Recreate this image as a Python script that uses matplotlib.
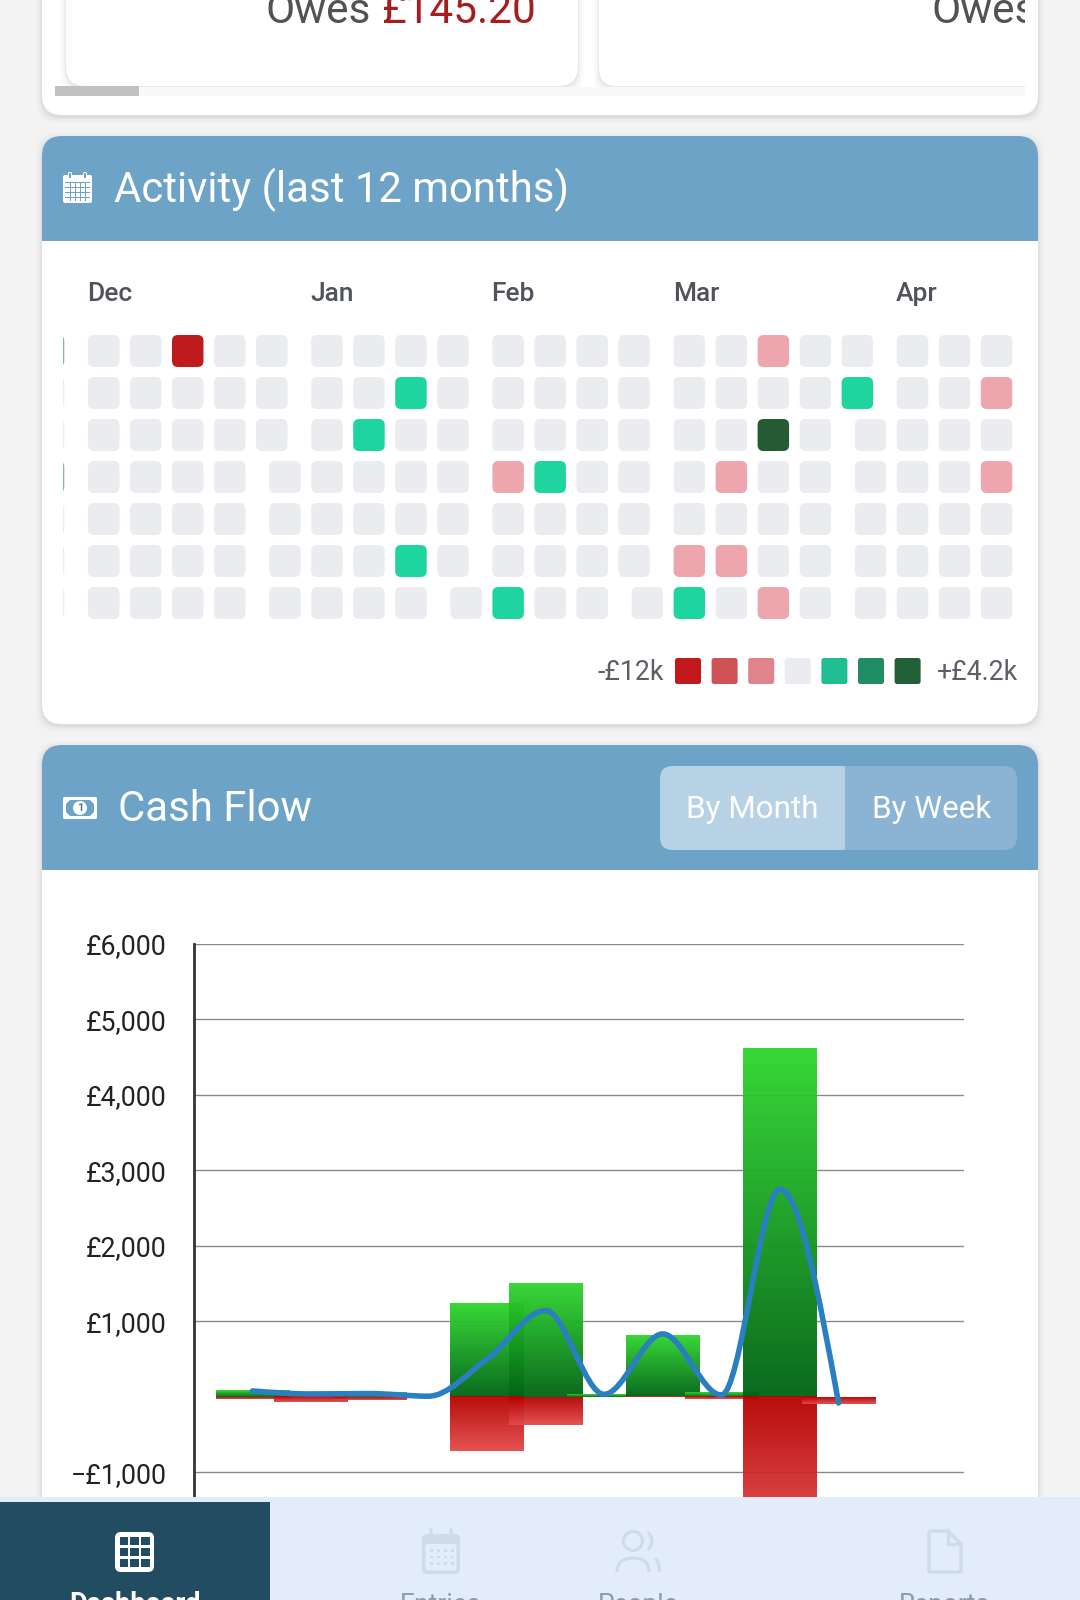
import numpy as np
import matplotlib
matplotlib.use('Agg')
import matplotlib.pyplot as plt
from matplotlib.patches import FancyBboxPatch, Rectangle, Circle, PathPatch, Polygon
from matplotlib.path import Path

plt.rcParams['font.family'] = ['Roboto', 'DejaVu Sans']

# heatmap data: 0 empty, -1/-3 spending, 1/3 income
HEAT_LEVELS = [
    [0, 0, -3, 0, 0, 0, 0, 0, 0, 0, 0, 0, 0, 0, 0, -1, 0, 0, 0, 0, 0],
    [0, 0, 0, 0, 0, 0, 0, 1, 0, 0, 0, 0, 0, 0, 0, 0, 0, 1, 0, 0, -1],
    [0, 0, 0, 0, 0, 0, 1, 0, 0, 0, 0, 0, 0, 0, 0, 3, 0, 0, 0, 0, 0],
    [0, 0, 0, 0, 0, 0, 0, 0, 0, -1, 1, 0, 0, 0, -1, 0, 0, 0, 0, 0, -1],
    [0, 0, 0, 0, 0, 0, 0, 0, 0, 0, 0, 0, 0, 0, 0, 0, 0, 0, 0, 0, 0],
    [0, 0, 0, 0, 0, 0, 0, 1, 0, 0, 0, 0, 0, -1, -1, 0, 0, 0, 0, 0, 0],
    [0, 0, 0, 0, 0, 0, 0, 0, 0, 1, 0, 0, 0, 1, 0, -1, 0, 0, 0, 0, 0],
]
PREV_COLUMN = [1, 0, 0, 1, 0, 0, 0]
MONTHS = ['Dec', 'Jan', 'Feb', 'Mar', 'Apr']
MONTH_COLS = [0, 5, 9, 13, 18]
BREAK_COLS = [-1, 4, 8, 12, 17]
BREAK_ROWS = [7, 3, 6, 6, 2]
LEVEL_COLORS = {-3: '#BF1B1C', -1: '#EDA5AE', 0: '#EBECF0', 1: '#1ED5A0', 3: '#265A33'}
LEGEND_COLORS = ['#C4191C', '#CF5257', '#E0848B', '#EBECF0', '#1FBD92', '#208D64', '#225E36']

# cash flow data (one slot per period)
INCOME = [90, 65, 65, 0, 1245, 1510, 35, 817, 60, 4618, 0]
EXPENSE = [-25, -70, -35, 0, -720, -370, 0, -5, -30, -1870, -90]
NET = [80, 40, 45, 10, 500, 1145, 35, 835, 25, 2750, -80]
Y_TICKS = [-1000, 1000, 2000, 3000, 4000, 5000, 6000]
Y_LABELS = ['\u2212£1,000', '£1,000', '£2,000', '£3,000', '£4,000', '£5,000', '£6,000']

W, H = 1080, 1600
BLUE = '#6DA3C7'
fig = plt.figure(figsize=(W / 100, H / 100), dpi=100, facecolor='#F3F3F3')


def px_axes(left, top, right, bottom, zorder=1):
    ax = fig.add_axes([left / W, 1 - bottom / H, (right - left) / W, (bottom - top) / H], zorder=zorder)
    ax.set_xlim(left, right)
    ax.set_ylim(bottom, top)
    ax.axis('off')
    return ax


def rbox(ax, x0, y0, x1, y1, r, color, **kw):
    p = FancyBboxPatch((x0 + r, y0 + r), x1 - x0 - 2 * r, y1 - y0 - 2 * r,
                       boxstyle=f'round,pad={r},rounding_size={r}', fc=color, ec='none', **kw)
    ax.add_patch(p)
    return p


def card(ax, x0, y0, x1, y1, r=20, clip=None):
    parts = []
    for grow, alpha in [(6, 0.012), (4, 0.018), (2, 0.025), (1, 0.03)]:
        parts.append(rbox(ax, x0 - grow, y0 - grow + 2, x1 + grow, y1 + grow + 2, r, 'black', alpha=alpha))
    parts.append(rbox(ax, x0, y0, x1, y1, r, 'white'))
    if clip is not None:
        for p in parts:
            p.set_clip_path(clip)


def header(ax, y0, y1):
    rbox(ax, 42, y0, 1038, y1, 20, BLUE)
    ax.add_patch(Rectangle((42, y0 + 25), 996, y1 - y0 - 25, fc=BLUE, ec='none'))


ui = px_axes(0, 0, W, H, zorder=1)

# top card, cut off by the top of the screen
card(ui, 42, -40, 1038, 115)
card(ui, 66, -40, 578, 86)
scroll_clip = Rectangle((590, -40), 435, 140, transform=ui.transData)
card(ui, 599, -40, 1060, 86, r=18, clip=scroll_clip)
ui.add_patch(Rectangle((55, 87), 970, 9, fc='#F9F9F9', ec='none'))
ui.add_patch(Rectangle((55, 86), 84, 10, fc='#C1C1C1', ec='none'))
ui.text(266, 23, 'Owes', fontsize=30.5, color='#525252', va='baseline')
ui.text(381, 23, '£145.20', fontsize=30.5, color='#A51D1D', va='baseline')
owes = ui.text(932, 23, 'Owes', fontsize=30.5, color='#525252', va='baseline', clip_on=True)
owes.set_clip_path(scroll_clip)

# activity card
card(ui, 42, 136, 1038, 724)
header(ui, 136, 241)
ui.text(114, 202, 'Activity (last 12 months)', fontsize=30.2, color='white', va='baseline')
rbox(ui, 63, 175, 92, 203, 2, 'white')
for px in [70, 85]:
    rbox(ui, px - 2, 172, px + 2, 180, 1.5, 'white')
    ui.add_patch(Rectangle((px - 1, 173), 2, 5, fc=BLUE, ec='none'))
ui.add_patch(Rectangle((65, 181.5), 25, 1.2, fc=BLUE, ec='none'))
for px in np.arange(70, 90, 5):
    ui.add_patch(Rectangle((px - 0.5, 183), 1, 18, fc=BLUE, ec='none'))
for py in np.arange(187, 201, 5):
    ui.add_patch(Rectangle((65, py), 25, 1, fc=BLUE, ec='none'))

# heatmap, the cut-off column at the left is clipped by the axes
heat = px_axes(63, 300, 1020, 630, zorder=2)
X0, PITCH, GAP, SIZE = 74.8, 42, 13.2, 31.5
Y0 = 335


def cell_x(col, row):
    shift = sum(1 for c, r in zip(BREAK_COLS, BREAK_ROWS) if col > c or (col == c and row >= r))
    return X0 + PITCH * col + GAP * shift


for row, levels in enumerate(HEAT_LEVELS):
    y = Y0 + PITCH * row
    x = cell_x(-1, row)
    rbox(heat, x, y, x + SIZE, y + SIZE + 0.5, 6, '#7DB8B4' if PREV_COLUMN[row] else '#EBECF0')
    for col, level in enumerate(levels):
        x = cell_x(col, row)
        rbox(heat, x, y, x + SIZE, y + SIZE + 0.5, 6, LEVEL_COLORS[level])

for name, col in zip(MONTHS, MONTH_COLS):
    ui.text(cell_x(col, 0) - 0.8, 301, name, fontsize=19, color='#50535C', va='baseline', fontweight='medium')

# heatmap legend
for i, c in enumerate(LEGEND_COLORS):
    rbox(ui, 675 + i * 36.6, 658, 701 + i * 36.6, 684, 2.5, c)
ui.text(664, 680, '-£12k', fontsize=19.2, color='#5C5F66', ha='right', va='baseline')
ui.text(937, 680, '+£4.2k', fontsize=19.2, color='#5C5F66', ha='left', va='baseline')

# cash flow card
card(ui, 42, 745, 1038, 1560)
header(ui, 745, 870)
ui.text(118, 821, 'Cash Flow', fontsize=30.2, color='white', va='baseline')
rbox(ui, 63, 797, 97, 819, 1.5, 'white')
ui.add_patch(Polygon([(70, 800), (90, 800), (94, 804), (94, 812), (90, 816), (70, 816), (66, 812), (66, 804)],
                     fc=BLUE, ec='none'))
ui.add_patch(Circle((80, 808), 7, fc='white', ec='none'))
ui.text(80, 808, '1', fontsize=8, color='#4C7F9F', ha='center', va='center', fontweight='bold')
rbox(ui, 660, 766, 1017, 850, 13, '#8AB3D4')
rbox(ui, 660, 766, 860, 850, 13, '#B7D1E5')
ui.add_patch(Rectangle((845, 766), 18, 84, fc='#8AB3D4', ec='none'))
ui.text(686.5, 818, 'By Month', fontsize=22.6, color='white', va='baseline')
ui.text(871.5, 818, 'By Week', fontsize=22.6, color='white', va='baseline')

# chart, bottom of it goes under the nav bar
ax = fig.add_axes([194 / W, 1 - 1497 / H, (964 - 194) / W, (1497 - 944) / H], zorder=2)
ax.patch.set_alpha(0)

BAR_W = 1.254


def gradient_bar(x, value, top_color, bottom_color, alpha=0.96):
    c0 = np.array(matplotlib.colors.to_rgb(top_color))
    c1 = np.array(matplotlib.colors.to_rgb(bottom_color))
    t = np.linspace(0, 1, 128)[:, None]
    img = np.zeros((128, 1, 4))
    img[:, :, :3] = (c0 + (c1 - c0) * t)[:, None, :]
    img[:, :, 3] = alpha
    ax.imshow(img, extent=(x - BAR_W / 2, x + BAR_W / 2, min(value, 0), max(value, 0)),
              aspect='auto', zorder=3, interpolation='bilinear')


slots = np.arange(len(INCOME))
for x, v in zip(slots, INCOME):
    if v != 0:
        gradient_bar(x, v, '#2FD62F', '#006414')
for x, v in zip(slots, EXPENSE):
    if v != 0:
        gradient_bar(x, v, '#B50202', '#E44C4C')

# net line: monotone cubic through the values
net = np.array(NET, dtype=float)
slope = np.diff(net)
tang = np.zeros(len(net))
for i in range(1, len(net) - 1):
    if slope[i - 1] * slope[i] > 0:
        tang[i] = 2 * slope[i - 1] * slope[i] / (slope[i - 1] + slope[i])
tang[0] = (3 * slope[0] - tang[1]) / 2
tang[-1] = (3 * slope[-1] - tang[-2]) / 2
verts = [(slots[0], net[0])]
codes = [Path.MOVETO]
for i in range(len(net) - 1):
    verts += [(slots[i] + 1 / 3, net[i] + tang[i] / 3),
              (slots[i + 1] - 1 / 3, net[i + 1] - tang[i + 1] / 3),
              (slots[i + 1], net[i + 1])]
    codes += [Path.CURVE4] * 3
ax.add_patch(PathPatch(Path(verts, codes), fc='none', ec='#2A7FC1', lw=4, zorder=4, capstyle='round'))

ax.set_xlim(-0.998, 12.14)
ax.set_ylim(-1325, 6000)
ax.set_yticks(Y_TICKS)
ax.set_yticklabels(Y_LABELS, fontsize=19.2, color='#222222')
ax.set_xticks([])
ax.tick_params(axis='y', length=0, pad=19.5)
ax.grid(axis='y', color='#8A8A8A', lw=1, zorder=1)
ax.set_axisbelow(True)
for side in ['top', 'right', 'bottom']:
    ax.spines[side].set_visible(False)
ax.spines['left'].set_color('#333333')
ax.spines['left'].set_linewidth(2)

# bottom nav
nav = px_axes(0, 1497, W, H, zorder=5)
nav.add_patch(Rectangle((0, 1497), W, 103, fc='#E3ECF9', ec='none'))
nav.add_patch(Rectangle((0, 1502), 270, 98, fc='#214C62', ec='none'))
rbox(nav, 115, 1532, 154, 1572, 6, 'white')
for i in range(3):
    for j in range(3):
        nav.add_patch(Rectangle((119.5 + i * 10.8, 1536.5 + j * 11), 8.4, 8.6, fc='#214C62', ec='none'))

ICON = '#CFDBEA'
rbox(nav, 422, 1534, 460, 1574, 5, ICON)
rbox(nav, 425.5, 1544, 456.5, 1570.5, 2, '#E3ECF9')
for px in [431, 451]:
    rbox(nav, px - 1.5, 1528, px + 1.5, 1539, 1.5, ICON)
for i in range(4):
    for j in range(3):
        nav.add_patch(Rectangle((430 + i * 7, 1549 + j * 6.5), 2.6, 2.6, fc=ICON, ec='none'))
nav.add_patch(Circle((633, 1541), 9.5, fc='none', ec=ICON, lw=2.2))
nav.add_patch(PathPatch(Path([(617, 1572), (617, 1558), (633, 1558), (649, 1558), (649, 1572)],
                             [Path.MOVETO, Path.CURVE3, Path.CURVE3, Path.CURVE3, Path.CURVE3]),
                        fc='none', ec=ICON, lw=2.2))
nav.add_patch(PathPatch(Path([(648, 1532), (656, 1541), (648, 1550)],
                             [Path.MOVETO, Path.CURVE3, Path.CURVE3]), fc='none', ec=ICON, lw=2.2))
nav.add_patch(PathPatch(Path([(655, 1558), (660, 1563), (659, 1572)],
                             [Path.MOVETO, Path.CURVE3, Path.CURVE3]), fc='none', ec=ICON, lw=2.2))
nav.plot([948, 930, 929, 929, 961, 961, 948], [1531, 1531, 1533, 1572, 1572, 1544, 1531], color=ICON, lw=2.4)
nav.plot([948, 948, 961], [1531, 1544, 1544], color=ICON, lw=2.4)

nav.text(135, 1612, 'Dashboard', fontsize=19.5, color='white', ha='center', va='baseline', fontweight='bold')
for label, cx in zip(['Entries', 'People', 'Reports'], [441, 638, 944]):
    nav.text(cx, 1612, label, fontsize=19, color='#8E9BA8', ha='center', va='baseline')

fig.savefig('out.png', dpi=100)
